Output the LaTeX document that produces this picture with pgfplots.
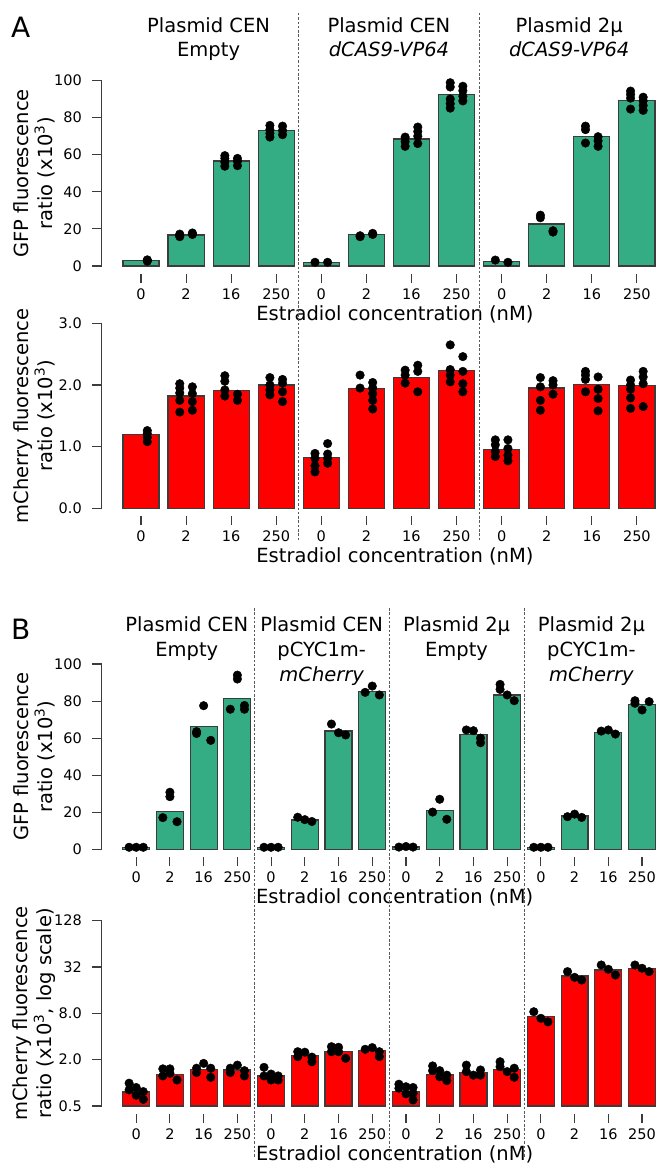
\documentclass[border=0pt]{standalone}
\usepackage{fontspec}
\setmainfont{DejaVu Sans}
\usepackage{pgfplots}
\usepackage{pgfplotstable}
\pgfplotsset{compat=1.18}
\definecolor{gfpgreen}{RGB}{52,172,132}
\definecolor{chred}{RGB}{255,0,0}
\definecolor{edgegray}{RGB}{60,60,60}
\definecolor{divgray}{RGB}{90,90,90}

\pgfplotstableread{
x y
0 2.9
1 16.7
2 56.6
3 73.0
4 2.0
5 16.8
6 68.5
7 92.3
8 2.3
9 22.6
10 69.7
11 89.2
}\gfpA
\pgfplotstableread{
x y
0 1.20
1 1.82
2 1.91
3 2.00
4 0.82
5 1.94
6 2.12
7 2.23
8 0.96
9 1.95
10 2.01
11 1.99
}\chA
\pgfplotstableread{
x y
0 1.1
1 20.3
2 66.4
3 81.3
4 1.1
5 15.8
6 63.9
7 85.1
8 1.2
9 21.0
10 62.0
11 83.3
12 1.1
13 18.0
14 63.1
15 78.2
}\gfpB
\pgfplotstableread{
x y
0 0.76
1 1.29
2 1.48
3 1.47
4 1.23
5 2.28
6 2.54
7 2.62
8 0.78
9 1.28
10 1.37
11 1.50
12 7.24
13 24.5
14 29.3
15 30.8
}\chB

\newcommand{\bigf}{\fontsize{19.5}{24}\selectfont}
\newcommand{\tickf}{\fontsize{14.5}{16}\selectfont}

\pgfplotsset{
  panel/.style={
    scale only axis, anchor=south west, enlargelimits=false, clip=false,
    axis x line=bottom, axis y line=left,
    x axis line style={draw=none},
    y axis line style={-, draw=edgegray, line width=1.2pt},
    xtick align=inside, ytick align=inside,
    major tick length=9pt,
    xtick style={draw=edgegray, line width=1.1pt, yshift=-17pt},
    ytick style={draw=edgegray, line width=1.1pt, xshift=-10pt, /pgfplots/major tick length=10pt},
    xticklabels={},
    yticklabel style={font=\tickf, anchor=east, inner sep=0pt, xshift=-19.5pt},
    /pgf/number format/assume math mode=true,
    every axis y label/.style={at={(axis description cs:-0.121,0.5)}, rotate=90, anchor=center, align=center, font=\bigf},
    every axis x label/.style={at={(axis description cs:0.5,0)}, anchor=base, xshift=14.5pt, yshift=-54pt, font=\bigf},
  },
  barsty/.style={ybar, bar width=0.8, bar shift=0pt, draw=edgegray, line width=1.2pt},
  dotsty/.style={only marks, mark=*, mark size=4.3pt, mark options={draw=black, fill=black}},
}
\tikzset{
  divider/.style={draw=divgray, line width=0.9pt, dash pattern=on 2.5pt off 1.8pt},
  ttl/.style={anchor=base, font=\bigf, inner sep=0pt},
  xtl/.style={anchor=base, font=\tickf, inner sep=0pt, yshift=-33pt},
}
% four concentration labels under one group: x positions #1..#4, y of the axis bottom #5
\newcommand{\grp}[5]{%
  \node[xtl] at (axis cs:#1,#5) {0};%
  \node[xtl] at (axis cs:#2,#5) {2};%
  \node[xtl] at (axis cs:#3,#5) {16};%
  \node[xtl] at (axis cs:#4,#5) {250};}

\begin{document}
\begin{tikzpicture}
\useasboundingbox (0pt,0pt) rectangle (668pt,-1174pt);

% ---------------- Panel A, GFP ----------------
\begin{axis}[panel, at={(101.5pt,-266pt)}, width=557.9pt, height=185.5pt,
  xmin=-0.876, xmax=11.5, ymin=0, ymax=100,
  xtick={0,...,11},
  ytick={0,20,40,60,80,100}, yticklabels={0,20,40,60,80,100},
  ylabel={GFP fluorescence\\ratio (x10\textsuperscript{3})},
  xlabel={Estradiol concentration (nM)}]
\addplot[barsty, fill=gfpgreen] table[x=x,y=y] {\gfpA};
\addplot[dotsty] coordinates {
(0.14,2.6)(0.14,3.0)(0.14,3.3)
(0.86,17.2)(0.86,16.5)(0.86,15.8)(1.14,17.8)(1.14,17.3)(1.14,17.0)
(1.86,59.5)(1.86,58.0)(1.86,56.0)(1.86,53.8)(2.14,58.0)(2.14,56.5)(2.14,54.1)
(2.86,75.8)(2.86,73.5)(2.86,71.5)(2.86,69.5)(3.14,75.4)(3.14,73.0)(3.14,70.8)
(3.86,2.0)(4.14,2.0)
(4.86,16.3)(4.86,15.8)(5.14,17.6)(5.14,17.0)
(5.86,69.5)(5.86,67.0)(5.86,64.5)(6.14,74.9)(6.14,72.5)(6.14,70.0)(6.14,66.0)
(6.86,98.8)(6.86,96.5)(6.86,90.0)(6.86,87.5)(6.86,85.1)(7.14,96.9)(7.14,94.5)(7.14,91.5)(7.14,89.0)
(7.86,3.2)(8.14,2.0)
(8.86,27.4)(8.86,26.0)(9.14,19.0)(9.14,18.3)
(9.86,75.4)(9.86,73.5)(9.86,66.3)(10.14,69.7)(10.14,67.5)(10.14,64.5)
(10.86,94.3)(10.86,92.5)(10.86,90.5)(10.86,84.6)(11.14,91.0)(11.14,89.0)(11.14,86.5)(11.14,83.9)
};
\grp{0}{1}{2}{3}{0}\grp{4}{5}{6}{7}{0}\grp{8}{9}{10}{11}{0}
\node[ttl, yshift=47.5pt] at (axis cs:1.5,100) {Plasmid CEN};
\node[ttl, yshift=23.5pt] at (axis cs:1.5,100) {Empty};
\node[ttl, yshift=47.5pt] at (axis cs:5.5,100) {Plasmid CEN};
\node[ttl, yshift=23.5pt] at (axis cs:5.5,100) {\itshape dCAS9-VP64};
\node[ttl, yshift=47.5pt] at (axis cs:9.5,100) {Plasmid 2µ};
\node[ttl, yshift=23.5pt] at (axis cs:9.5,100) {\itshape dCAS9-VP64};
\coordinate (a1) at (axis cs:3.5,0);
\coordinate (a2) at (axis cs:7.5,0);
\end{axis}

% ---------------- Panel A, mCherry ----------------
\begin{axis}[panel, at={(101.5pt,-508.3pt)}, width=557.9pt, height=185pt,
  xmin=-0.876, xmax=11.5, ymin=0, ymax=3,
  xtick={0,...,11},
  ytick={0,1,2,3}, yticklabels={0.0,1.0,2.0,3.0},
  ylabel={mCherry fluorescence\\ratio (x10\textsuperscript{3})},
  xlabel={Estradiol concentration (nM)}]
\addplot[barsty, fill=chred] table[x=x,y=y] {\chA};
\addplot[dotsty] coordinates {
(0.14,1.26)(0.14,1.21)(0.14,1.15)(0.14,1.08)
(0.86,2.02)(0.86,1.95)(0.86,1.87)(0.86,1.75)(0.86,1.56)(1.14,1.97)(1.14,1.86)(1.14,1.73)(1.14,1.59)
(1.86,2.15)(1.86,2.06)(1.86,1.92)(1.86,1.82)(2.14,1.85)(2.14,1.75)
(2.86,2.12)(2.86,2.00)(2.86,1.92)(2.86,1.84)(3.14,2.09)(3.14,2.03)(3.14,1.89)(3.14,1.73)
(3.86,0.89)(3.86,0.81)(3.86,0.69)(3.86,0.59)(4.14,1.05)(4.14,0.88)(4.14,0.81)(4.14,0.73)
(4.86,2.16)(4.86,1.95)(5.14,2.04)(5.14,1.95)(5.14,1.86)(5.14,1.75)(5.14,1.61)
(5.86,2.24)(5.86,2.16)(5.86,2.03)(6.14,2.32)(6.14,2.22)(6.14,1.89)
(6.86,2.65)(6.86,2.25)(6.86,2.16)(6.86,2.05)(7.14,2.46)(7.14,2.22)(7.14,2.02)(7.14,1.89)
(7.86,1.11)(7.86,1.03)(7.86,0.92)(7.86,0.84)(8.14,1.11)(8.14,0.97)(8.14,0.86)(8.14,0.77)
(8.86,2.12)(8.86,1.97)(8.86,1.75)(8.86,1.59)(9.14,2.07)(9.14,2.00)(9.14,1.85)
(9.86,2.22)(9.86,2.16)(9.86,2.09)(9.86,1.89)(10.14,2.13)(10.14,1.93)(10.14,1.78)(10.14,1.58)
(10.86,2.08)(10.86,2.00)(10.86,1.93)(10.86,1.79)(10.86,1.62)(11.14,2.22)(11.14,2.13)(11.14,2.02)(11.14,1.65)
};
\grp{0}{1}{2}{3}{0}\grp{4}{5}{6}{7}{0}\grp{8}{9}{10}{11}{0}
\end{axis}

% ---------------- Panel B, GFP ----------------
\begin{axis}[panel, at={(101.5pt,-849.3pt)}, width=557.4pt, height=185.3pt,
  xmin=-1.029, xmax=15.5, ymin=0, ymax=100,
  xtick={0,...,15},
  ytick={0,20,40,60,80,100}, yticklabels={0,20,40,60,80,100},
  ylabel={GFP fluorescence\\ratio (x10\textsuperscript{3})},
  xlabel={Estradiol concentration (nM)}]
\addplot[barsty, fill=gfpgreen] table[x=x,y=y] {\gfpB};
\addplot[dotsty] coordinates {
(-0.21,1.1)(0,1.1)(0.21,1.1)
(0.79,17.1)(1,30.8)(1,28.4)(1.21,14.9)
(1.79,63.5)(1.79,62.5)(2,77.5)(2.21,58.8)
(2.79,75.6)(3,94.0)(3,91.9)(3.21,77.6)(3.21,75.6)
(3.79,1.1)(4,1.1)(4.21,1.1)
(4.79,17.3)(5,16.0)(5.21,15.0)
(5.79,67.6)(6,62.9)(6.21,61.7)
(6.79,84.7)(7,88.1)(7.21,83.3)
(7.79,1.2)(8,1.5)(8.21,1.2)
(8.79,20.1)(9,27.0)(9.21,16.2)
(9.79,64.4)(10,64.0)(10.21,60.0)(10.21,57.5)
(10.79,89.0)(10.79,86.3)(11,83.3)(11.21,80.2)
(11.79,1.1)(12,1.1)(12.21,1.1)
(12.79,17.6)(13,19.0)(13.21,17.2)
(13.79,63.8)(14,64.4)(14.21,62.2)
(14.79,80.2)(14.79,78.8)(15,75.2)(15.21,79.7)
};
\grp{0}{1}{2}{3}{0}\grp{4}{5}{6}{7}{0}\grp{8}{9}{10}{11}{0}\grp{12}{13}{14}{15}{0}
\node[ttl, yshift=32.5pt] at (axis cs:1.5,100) {Plasmid CEN};
\node[ttl, yshift=7.5pt] at (axis cs:1.5,100) {Empty};
\node[ttl, yshift=32.5pt] at (axis cs:5.5,100) {Plasmid CEN};
\node[ttl, yshift=7.5pt] at (axis cs:5.5,100) {pCYC1m-};
\node[ttl, yshift=-17pt] at (axis cs:5.5,100) {\itshape mCherry};
\node[ttl, yshift=32.5pt] at (axis cs:9.5,100) {Plasmid 2µ};
\node[ttl, yshift=7.5pt] at (axis cs:9.5,100) {Empty};
\node[ttl, yshift=32.5pt] at (axis cs:13.5,100) {Plasmid 2µ};
\node[ttl, yshift=7.5pt] at (axis cs:13.5,100) {pCYC1m-};
\node[ttl, yshift=-17pt] at (axis cs:13.5,100) {\itshape mCherry};
\coordinate (b1) at (axis cs:3.5,0);
\coordinate (b2) at (axis cs:7.5,0);
\coordinate (b3) at (axis cs:11.5,0);
\end{axis}

% ---------------- Panel B, mCherry (log) ----------------
\begin{axis}[panel, at={(101.5pt,-1106pt)}, width=557.4pt, height=185.3pt,
  xmin=-1.029, xmax=15.5, ymode=log, log basis y=2, ymin=0.5, ymax=128,
  log origin y=infty,
  xtick={0,...,15},
  ytick={0.5,2,8,32,128}, yticklabels={0.5,2.0,8.0,32,128},
  ylabel={mCherry fluorescence\\ratio (x10\textsuperscript{3}, log scale)},
  xlabel={Estradiol concentration (nM)}]
\addplot[barsty, fill=chred] table[x=x,y=y] {\chB};
\addplot[dotsty] coordinates {
(-0.21,0.99)(-0.21,0.81)(0,0.87)(0,0.69)(0.21,0.77)(0.21,0.61)
(0.79,1.52)(0.79,1.23)(1,1.52)(1,1.33)(1.21,1.09)
(1.79,1.55)(1.79,1.36)(2,1.79)(2.21,1.55)(2.21,1.18)
(2.79,1.55)(2.79,1.36)(3,1.70)(3.21,1.44)(3.21,1.23)
(3.79,1.59)(3.79,1.23)(4,1.30)(4,1.09)(4.21,1.23)(4.21,1.09)
(4.79,2.54)(4.79,2.19)(5,2.50)(5.21,2.16)(5.21,1.88)
(5.79,2.95)(5.79,2.54)(6,2.90)(6,2.54)(6.21,2.08)
(6.79,2.73)(7,2.87)(7.21,2.54)(7.21,2.19)
(7.79,0.96)(7.79,0.85)(8,0.89)(8,0.72)(8.21,0.87)(8.21,0.73)(8.21,0.60)
(8.79,1.66)(8.79,1.44)(9,1.44)(9,1.20)(9.21,1.26)(9.21,1.07)
(9.79,1.70)(9.79,1.40)(10,1.26)(10.21,1.47)(10.21,1.26)
(10.79,1.88)(10.79,1.62)(11,1.40)(11.21,1.55)(11.21,1.18)
(11.79,8.4)(12,6.9)(12.21,6.2)
(12.79,27.9)(13,23.5)(13.21,21.7)
(13.79,34)(14,29.9)(14.21,25.2)
(14.79,34)(15,30.8)(15.21,27.9)
};
\grp{0}{1}{2}{3}{0.5}\grp{4}{5}{6}{7}{0.5}\grp{8}{9}{10}{11}{0.5}\grp{12}{13}{14}{15}{0.5}
\end{axis}

% dividers and panel letters
\coordinate (ta) at (0pt,-13pt);
\coordinate (ba) at (0pt,-541pt);
\coordinate (tb) at (0pt,-608pt);
\coordinate (bb) at (0pt,-1158pt);
\draw[divider] (a1 |- ta) -- (a1 |- ba);
\draw[divider] (a2 |- ta) -- (a2 |- ba);
\draw[divider] (b1 |- tb) -- (b1 |- bb);
\draw[divider] (b2 |- tb) -- (b2 |- bb);
\draw[divider] (b3 |- tb) -- (b3 |- bb);
\node[anchor=base west, inner sep=0pt, font=\fontsize{28}{30}\selectfont] at (11pt,-38pt) {A};
\node[anchor=base west, inner sep=0pt, font=\fontsize{28}{30}\selectfont] at (11pt,-639pt) {B};
\end{tikzpicture}
\end{document}
